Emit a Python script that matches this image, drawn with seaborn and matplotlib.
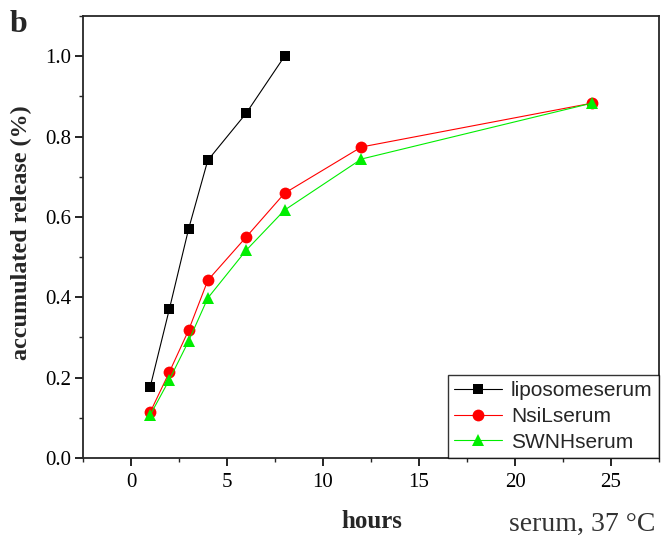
import numpy as np
import pandas as pd
import matplotlib
matplotlib.use("Agg")
import matplotlib.pyplot as plt
import seaborn as sns
from matplotlib.ticker import MultipleLocator

hours_lipo = [1, 2, 3, 4, 6, 8]
lipo = [0.177, 0.371, 0.570, 0.741, 0.858, 1.000]
hours_long = [1, 2, 3, 4, 6, 8, 12, 24]
nsil = [0.114, 0.214, 0.318, 0.442, 0.550, 0.659, 0.774, 0.883]
swnh = [0.107, 0.195, 0.291, 0.398, 0.517, 0.617, 0.744, 0.883]
series_names = ["liposomeserum", "NsiLserum", "SWNHserum"]
y_ticks = [0.0, 0.2, 0.4, 0.6, 0.8, 1.0]
y_tick_labels = ["0.0", "0.2", "0.4", "0.6", "0.8", "1.0"]

df = pd.concat([
    pd.DataFrame({"hours": hours_lipo, "release": lipo, "series": series_names[0]}),
    pd.DataFrame({"hours": hours_long, "release": nsil, "series": series_names[1]}),
    pd.DataFrame({"hours": hours_long, "release": swnh, "series": series_names[2]}),
])

sns.set_style("ticks")
plt.rcParams["font.family"] = ["Liberation Serif", "DejaVu Serif"]

fig = plt.figure(figsize=(6.61, 5.42), dpi=100)
ax = fig.add_axes([83/661, 84/542, 576/661, 442/542])

styles = {
    "liposomeserum": dict(color="black", marker="s", ms=7),
    "NsiLserum": dict(color="#ff0000", marker="o", ms=8.5),
    "SWNHserum": dict(color="#00ee00", marker="^", ms=9),
}
for name in series_names:
    st = styles[name]
    sub = df[df["series"] == name]
    sns.lineplot(data=sub, x="hours", y="release", ax=ax, color=st["color"],
                 marker=st["marker"], markersize=st["ms"], markeredgewidth=0,
                 linewidth=0.8, label=name, estimator=None, sort=False)

ax.set_xlim(-2.5, 27.5)
ax.set_ylim(0, 1.1)
ax.xaxis.set_major_locator(MultipleLocator(5))
ax.xaxis.set_minor_locator(MultipleLocator(2.5))
ax.yaxis.set_minor_locator(MultipleLocator(0.1))
ax.set_yticks(y_ticks)
ax.set_yticklabels(y_tick_labels)
ax.tick_params(which="major", direction="out", length=5.5, width=1.2, labelsize=15,
               colors="black")
ax.tick_params(axis="x", which="major", pad=5)
ax.tick_params(axis="y", which="major", pad=3)
ax.tick_params(which="minor", direction="out", length=3, width=1.0)
for sp in ax.spines.values():
    sp.set_linewidth(1.3)
    sp.set_visible(True)

ax.set_xlabel("")
ax.set_ylabel("")
fig.text(21.5/661, 1 - 233/542, "accumulated release (%)", rotation=90, ha="center",
         va="center", fontsize=17.4, fontweight="bold")
fig.text(372/661, 1 - 521/542, "hours", ha="center", va="center", fontsize=18, fontweight="bold")
fig.text(582/661, 1 - 524/542, "serum, 37 °C", ha="center", va="center", fontsize=20, color="#333333")
fig.text(10/661, 1 - 25/542, "b", ha="left", va="center", fontsize=23, fontweight="bold")

leg = ax.legend(loc="lower right", frameon=True, fancybox=False, edgecolor="black",
                prop={"family": "Liberation Sans", "size": 15}, borderpad=0.3,
                labelspacing=0.32, handlelength=2.3, handletextpad=0.45,
                borderaxespad=0.0)
leg.get_frame().set_linewidth(1.0)

fig.savefig("out.png", dpi=100)
